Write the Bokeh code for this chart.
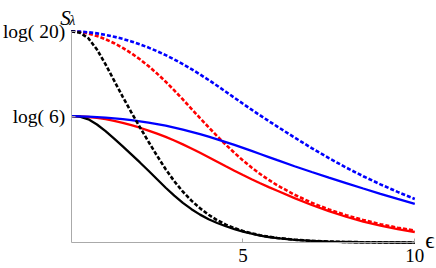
import math
from bokeh.plotting import figure
from bokeh.models import FixedTicker, Label, Range1d
from bokeh.embed import file_html
from bokeh.resources import INLINE

eps = [0, 0.25, 0.5, 0.75, 1, 1.25, 1.5, 1.75, 2, 2.25, 2.5, 2.75, 3, 3.25, 3.5, 3.75,
       4, 4.25, 4.5, 4.75, 5, 5.25, 5.5, 5.75, 6, 6.5, 7, 7.5, 8, 8.5, 9, 9.5, 10]

black_solid = [1.792, 1.785, 1.748, 1.675, 1.58, 1.475, 1.365, 1.252, 1.137, 1.019, 0.899,
               0.779, 0.667, 0.565, 0.475, 0.398, 0.333, 0.279, 0.233, 0.193, 0.158, 0.128,
               0.102, 0.081, 0.064, 0.040, 0.025, 0.016, 0.010, 0.006, 0.004, 0.003, 0.002]
black_dotted = [2.996, 2.976, 2.896, 2.736, 2.526, 2.296, 2.066, 1.846, 1.636, 1.431, 1.231,
                1.041, 0.871, 0.723, 0.596, 0.488, 0.396, 0.319, 0.257, 0.207, 0.166, 0.133,
                0.106, 0.085, 0.068, 0.043, 0.027, 0.017, 0.011, 0.007, 0.0045, 0.003, 0.002]
red_solid = [1.792, 1.789, 1.781, 1.768, 1.75, 1.727, 1.699, 1.666, 1.629, 1.589, 1.546,
             1.499, 1.448, 1.393, 1.335, 1.274, 1.211, 1.147, 1.083, 1.02, 0.959, 0.90,
             0.843, 0.788, 0.736, 0.632, 0.535, 0.447, 0.368, 0.30, 0.243, 0.194, 0.152]
red_dotted = [2.996, 2.986, 2.963, 2.928, 2.882, 2.826, 2.76, 2.684, 2.598, 2.502, 2.396,
              2.281, 2.158, 2.029, 1.897, 1.765, 1.635, 1.509, 1.388, 1.273, 1.165, 1.065,
              0.973, 0.889, 0.813, 0.68, 0.566, 0.47, 0.39, 0.322, 0.263, 0.213, 0.172]
blue_solid = [1.792, 1.79, 1.786, 1.78, 1.772, 1.762, 1.75, 1.736, 1.72, 1.702, 1.681,
              1.657, 1.63, 1.601, 1.57, 1.537, 1.502, 1.465, 1.426, 1.386, 1.344, 1.301,
              1.257, 1.213, 1.169, 1.083, 1.002, 0.922, 0.845, 0.768, 0.693, 0.62, 0.55]
blue_dotted = [2.996, 2.991, 2.981, 2.965, 2.944, 2.918, 2.887, 2.851, 2.81, 2.764, 2.713,
               2.657, 2.596, 2.53, 2.459, 2.384, 2.305, 2.223, 2.139, 2.054, 1.969, 1.885,
               1.803, 1.723, 1.645, 1.49, 1.34, 1.198, 1.065, 0.942, 0.827, 0.72, 0.62]

x_ticks = [5, 10]
y_ticks = [math.log(6), math.log(20)]
y_tick_labels = ["log( 6)", "log( 20)"]

FONT = "Liberation Serif"
AXIS_GRAY = "#aaaaaa"

p = figure(width=436, height=268, output_backend="svg", toolbar_location=None,
           x_range=Range1d(-2.058, 10.632), y_range=Range1d(-0.365, 3.431),
           min_border=0, min_border_left=0, min_border_right=0,
           min_border_top=0, min_border_bottom=0)
p.outline_line_color = None
p.grid.visible = False
p.background_fill_color = "white"

for ax in (p.xaxis[0], p.yaxis[0]):
    ax.fixed_location = 0
    ax.axis_line_color = AXIS_GRAY
    ax.major_tick_line_color = AXIS_GRAY
    ax.minor_tick_line_color = None
    ax.major_tick_in = 4
    ax.major_tick_out = 0
    ax.major_label_text_font = FONT
    ax.major_label_text_color = "black"

p.xaxis.bounds = (0, 10)
p.xaxis.ticker = FixedTicker(ticks=x_ticks)
p.xaxis.major_label_text_font_size = "19px"
p.xaxis.major_label_standoff = 6

p.yaxis.bounds = (0, math.log(20))
p.yaxis.ticker = FixedTicker(ticks=y_ticks)
p.yaxis.major_label_overrides = {t: s for t, s in zip(y_ticks, y_tick_labels)}
p.yaxis.major_label_text_font_size = "19.5px"
p.yaxis.major_label_standoff = 6

DASH = "4 2"
p.line(eps, red_solid, line_color="#ff0000", line_width=2.3)
p.line(eps, red_dotted, line_color="#ff0000", line_width=2.6, line_dash=DASH)
p.line(eps, black_solid, line_color="black", line_width=2.3)
p.line(eps, blue_solid, line_color="#0000ff", line_width=2.3)
p.line(eps, blue_dotted, line_color="#0000ff", line_width=2.6, line_dash=DASH)
p.line(eps, black_dotted, line_color="black", line_width=2.6, line_dash=DASH)

p.add_layout(Label(x=0, y=math.log(20), x_offset=-11, y_offset=13.4, text="S",
                   text_font=FONT, text_font_style="italic", text_font_size="21px",
                   text_color="black", text_align="left", text_baseline="alphabetic"))
p.add_layout(Label(x=0, y=math.log(20), x_offset=-2, y_offset=10.5, text="λ",
                   text_font=FONT, text_font_style="italic", text_font_size="14px",
                   text_color="black", text_align="left", text_baseline="alphabetic"))
p.add_layout(Label(x=10, y=0, x_offset=10.5, y_offset=2.5, text="ϵ",
                   text_font=FONT, text_font_size="23px",
                   text_color="black", text_align="left", text_baseline="middle"))

open("out.html", "w").write(file_html(p, INLINE))
